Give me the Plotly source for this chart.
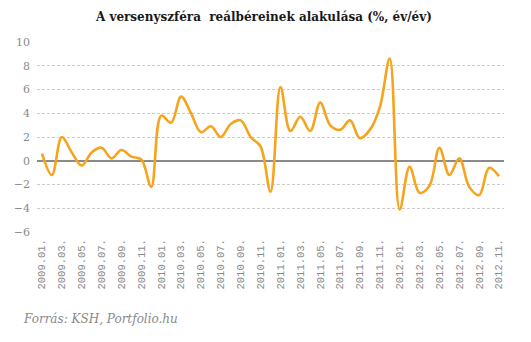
import plotly.graph_objects as go

# Monthly year-on-year real wage change in the business sector (%)
months = [
    "2009.01.", "2009.02.", "2009.03.", "2009.04.", "2009.05.", "2009.06.",
    "2009.07.", "2009.08.", "2009.09.", "2009.10.", "2009.11.", "2009.12.",
    "2010.01.", "2010.02.", "2010.03.", "2010.04.", "2010.05.", "2010.06.",
    "2010.07.", "2010.08.", "2010.09.", "2010.10.", "2010.11.", "2010.12.",
    "2011.01.", "2011.02.", "2011.03.", "2011.04.", "2011.05.", "2011.06.",
    "2011.07.", "2011.08.", "2011.09.", "2011.10.", "2011.11.", "2011.12.",
    "2012.01.", "2012.02.", "2012.03.", "2012.04.", "2012.05.", "2012.06.",
    "2012.07.", "2012.08.", "2012.09.", "2012.10.", "2012.11.",
]
values = [
    0.6, -1.2, 2.0, 0.7, -0.4, 0.7,
    1.1, 0.2, 0.9, 0.35, 0.1, -2.2,
    3.8, 3.2, 5.4, 4.0, 2.4, 2.9,
    2.0, 3.1, 3.4, 2.0, 1.2, -2.6,
    6.2, 2.5, 3.7, 2.5, 4.9, 3.0,
    2.6, 3.4, 1.9, 2.6, 4.5, 8.6,
    -4.1, -0.5, -2.7, -2.1, 1.1, -1.2,
    0.2, -2.2, -2.9, -0.6, -1.3,
]
tick_labels = months[::2]
y_ticks = [-6, -4, -2, 0, 2, 4, 6, 8, 10]

title_text = "A versenyszféra  reálbéreinek alakulása (%, év/év)"
source_text = "Forrás: KSH, Portfolio.hu"

fig = go.Figure()
fig.add_trace(go.Scatter(
    x=months,
    y=values,
    mode="lines",
    line=dict(color="#F7A31C", width=2.6, shape="spline", smoothing=1.0),
    hoverinfo="x+y",
))

fig.update_layout(
    width=531,
    height=342,
    margin=dict(l=37, r=27, t=41.5, b=109.7),
    paper_bgcolor="white",
    plot_bgcolor="white",
    showlegend=False,
    title=dict(
        text=title_text,
        x=0.497, xanchor="center",
        y=1 - 17 / 342, yanchor="middle",
        font=dict(family="DejaVu Serif", size=12, color="#1a1a1a", weight="bold"),
    ),
    xaxis=dict(
        type="category",
        range=[-0.5, len(months) - 0.5],
        tickmode="array",
        tickvals=tick_labels,
        ticktext=tick_labels,
        tickangle=-90,
        tickfont=dict(family="Liberation Mono", size=10.5, color="#8c8c8c"),
        showgrid=False,
        showline=False,
        zeroline=False,
        ticks="",
        ticklabelstandoff=4,
    ),
    yaxis=dict(
        range=[-6, 10],
        tickmode="array",
        tickvals=y_ticks,
        showgrid=True,
        gridcolor="#cccccc",
        griddash="3px,2px",
        gridwidth=1,
        zeroline=True,
        zerolinecolor="#8a8a8a",
        zerolinewidth=1.5,
        showline=False,
        ticks="",
        tickfont=dict(family="DejaVu Serif", size=11, color="#8a8a8a"),
        ticklabelstandoff=6,
    ),
    annotations=[
        dict(
            text=source_text,
            xref="paper", yref="paper",
            x=-(37 - 21) / (531 - 37 - 27), xanchor="left",
            y=-(320 - 232.3) / (232.3 - 41.5), yanchor="middle",
            showarrow=False,
            font=dict(family="DejaVu Serif", size=12, color="#8a8a8a", style="italic"),
        )
    ],
)

fig.write_html("out.html")
